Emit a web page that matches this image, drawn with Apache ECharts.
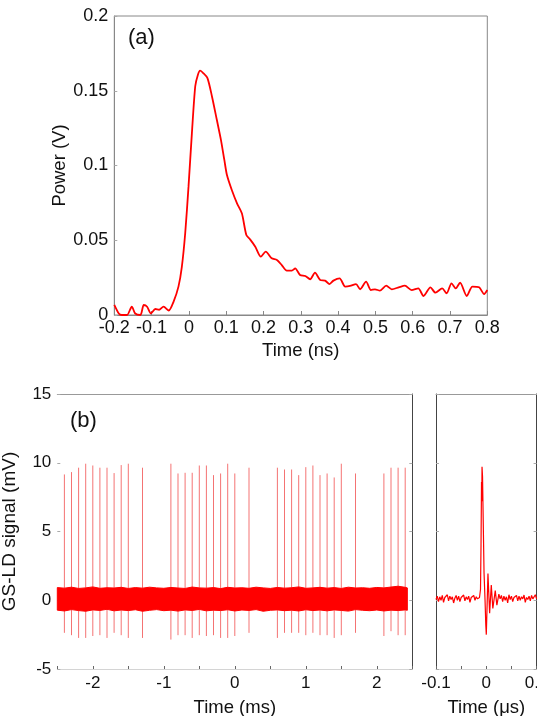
<!DOCTYPE html>
<html><head><meta charset="utf-8">
<script src="https://cdn.jsdelivr.net/npm/echarts@6/dist/echarts.min.js"></script>
<style>html,body{margin:0;padding:0;background:#fff}#c{width:537px;height:716px}</style>
</head><body><div id="c"></div>
<script>
// (a) pulse: time (ns), power (V)
const pulseT = [-0.2,-0.188,-0.18,-0.166,-0.153,-0.144,-0.13,-0.121,-0.112,-0.102,-0.09,-0.08,-0.068,-0.054,-0.041,-0.028,-0.019,-0.0098,-0.001,0.008,0.017,0.024,0.030,0.039,0.05,0.062,0.075,0.086,0.095,0.102,0.115,0.129,0.142,0.154,0.164,0.178,0.193,0.206,0.222,0.236,0.249,0.2625,0.276,0.285,0.298,0.312,0.325,0.338,0.352,0.365,0.377,0.3875,0.404,0.419,0.432,0.448,0.459,0.475,0.488,0.499,0.512,0.529,0.544,0.5625,0.579,0.597,0.615,0.629,0.6475,0.661,0.679,0.691,0.704,0.7155,0.727,0.745,0.76,0.778,0.7915,0.8];
const pulseV = [0.0067,0.001,0,0,0.0056,0.001,0,0.0067,0.0055,0.001,0.004,0.0035,0.0056,0.003,0.009,0.019,0.032,0.055,0.086,0.1215,0.153,0.1605,0.1634,0.1617,0.1583,0.146,0.1304,0.117,0.1037,0.0936,0.0836,0.0747,0.068,0.0535,0.0506,0.0457,0.039,0.0424,0.0379,0.0368,0.0334,0.0297,0.0297,0.0312,0.0268,0.0261,0.0239,0.0283,0.0234,0.023,0.0207,0.023,0.0245,0.019,0.0194,0.0207,0.0172,0.0223,0.0167,0.0172,0.0163,0.0196,0.0172,0.0185,0.0196,0.0167,0.0178,0.0127,0.0185,0.0149,0.0178,0.0145,0.0212,0.0178,0.0216,0.0127,0.019,0.0185,0.014,0.0167];

// (b) spikes: time (ms), peak (mV), trough (mV)
const spikeT   = [-2.4,-2.3,-2.2,-2.1,-2.0,-1.9,-1.8,-1.7,-1.6,-1.5,-1.3,-0.9,-0.8,-0.7,-0.6,-0.5,-0.4,-0.3,-0.2,-0.1,0.0,0.2,0.6,0.7,0.8,0.9,1.0,1.1,1.2,1.3,1.4,1.5,1.7,2.1,2.2,2.3,2.4];
const spikeTop = [9.15,9.32,9.64,9.93,9.8,9.64,9.64,9.25,9.83,9.93,9.64,9.93,9.22,9.27,9.27,9.8,9.8,9.1,9.22,9.93,9.22,9.64,9.64,9.51,9.51,9.1,9.68,9.8,9.1,9.22,8.93,9.93,9.22,9.22,9.64,9.64,9.64];
const spikeBot = [-2.37,-2.54,-2.74,-2.74,-2.6,-2.54,-2.74,-2.37,-2.54,-2.74,-2.74,-2.86,-2.54,-2.54,-2.74,-2.54,-2.6,-2.54,-2.74,-2.74,-2.6,-2.37,-2.74,-2.37,-2.37,-2.37,-2.54,-2.37,-2.54,-2.54,-2.74,-2.54,-2.37,-2.6,-2.25,-2.54,-2.54];

// (b) noise band envelope: time (ms), upper / lower (mV)
const bandT  = [-2.5,-2.4,-2.3,-2.2,-2.1,-2.0,-1.9,-1.8,-1.7,-1.6,-1.5,-1.4,-1.3,-1.2,-1.1,-1.0,-0.9,-0.8,-0.7,-0.6,-0.5,-0.4,-0.3,-0.2,-0.1,0.0,0.1,0.2,0.3,0.4,0.5,0.6,0.7,0.8,0.9,1.0,1.1,1.2,1.3,1.4,1.5,1.6,1.7,1.8,1.9,2.0,2.1,2.2,2.3,2.4,2.43];
const bandHi = [0.92,0.88,0.95,0.86,0.9,0.97,0.87,0.91,0.89,0.94,0.86,0.92,0.88,0.95,0.9,0.87,0.93,0.89,0.86,0.96,0.9,0.88,0.92,0.85,0.94,0.89,0.91,0.87,0.95,0.9,0.86,0.93,0.88,0.91,0.97,0.87,0.9,0.94,0.88,0.92,0.86,0.95,0.89,0.91,0.87,0.93,0.9,0.96,1.02,0.94,0.9];
const bandLo = [-0.72,-0.78,-0.68,-0.75,-0.8,-0.7,-0.74,-0.66,-0.77,-0.71,-0.75,-0.69,-0.8,-0.73,-0.68,-0.76,-0.72,-0.79,-0.7,-0.74,-0.67,-0.77,-0.72,-0.75,-0.69,-0.78,-0.71,-0.74,-0.68,-0.8,-0.73,-0.7,-0.76,-0.72,-0.78,-0.69,-0.75,-0.71,-0.77,-0.7,-0.74,-0.79,-0.68,-0.73,-0.76,-0.71,-0.78,-0.72,-0.75,-0.7,-0.73];

// (b) single pulse: time (us), signal (mV)
const zoomT = [-0.1,-0.0975,-0.095,-0.0925,-0.09,-0.0875,-0.085,-0.0825,-0.08,-0.0775,-0.075,-0.0725,-0.07,-0.0675,-0.065,-0.0625,-0.06,-0.0575,-0.055,-0.0525,-0.05,-0.0475,-0.045,-0.0425,-0.04,-0.0375,-0.035,-0.0325,-0.03,-0.0275,-0.025,-0.0225,-0.02,-0.0175,-0.015,
 -0.0135,-0.0115,-0.0105,-0.0095,-0.009,-0.0085,-0.0075,-0.006,-0.0045,-0.0025,-0.001,0.0,0.0015,0.0033,0.0066,0.0099,0.013,0.0178,0.021,0.025,
 0.0275,0.03,0.0325,0.035,0.0375,0.04,0.0425,0.045,0.0475,0.05,0.0525,0.055,0.0575,0.06,0.0625,0.065,0.0675,0.07,0.0725,0.075,0.0775,0.08,0.0825,0.085,0.0875,0.09,0.0925,0.095,0.0975,0.1];
const zoomV = [0.05,0.3,-0.1,0.25,0.0,0.35,-0.15,0.2,0.1,0.4,-0.05,0.3,0.05,0.25,-0.2,0.15,0.35,0.0,0.3,-0.1,0.2,0.1,0.38,-0.05,0.25,0.05,0.3,-0.15,0.2,0.1,0.35,0.0,0.25,0.1,0.15,
 0.2,0.8,4.0,8.6,7.2,9.7,9.0,5.5,2.0,0.0,-1.8,-2.5,-0.5,1.95,-0.95,1.1,-0.6,0.7,-0.35,0.45,
 0.1,0.35,-0.1,0.3,0.0,0.25,-0.2,0.4,0.05,0.3,-0.1,0.2,0.15,0.35,-0.05,0.3,0.0,0.25,0.1,0.38,-0.15,0.2,0.05,0.3,-0.05,0.35,0.1,0.2,0.4,0.1];

const FONT = '"Liberation Sans", Arial, sans-serif';
const TXT = '#111';
const pair = (a, b) => a.map((x, i) => [x, b[i]]);
const chart = echarts.init(document.getElementById('c'), null, {renderer: 'canvas'});

const noSplit = {show: false};
function aux(gridIndex, position, min, max, color) {
  return {gridIndex, position, type: 'value', min, max,
    axisLine: {show: true, onZero: false, lineStyle: {color, width: 1}},
    axisTick: {show: false}, axisLabel: {show: false}, splitLine: noSplit};
}

const option = {
  animation: false,
  backgroundColor: '#fff',
  textStyle: {fontFamily: FONT},
  grid: [
    {left: 114.3, top: 16, width: 373, height: 299, show: true, borderColor: '#888', borderWidth: 1, outerBoundsMode: 'none', containLabel: false},
    {left: 57.3, top: 394, width: 355, height: 275, outerBoundsMode: 'none', containLabel: false},
    {left: 436, top: 394, width: 100.6, height: 275, outerBoundsMode: 'none', containLabel: false}
  ],
  xAxis: [
    {gridIndex: 0, type: 'value', min: -0.2, max: 0.8, interval: 0.1,
      axisLine: {onZero: false, lineStyle: {color: '#888'}},
      axisTick: {inside: true, length: 4, lineStyle: {color: '#888'}},
      splitLine: noSplit,
      axisLabel: {fontSize: 18, color: TXT, margin: 4, fontFamily: FONT,
        formatter: v => String(Number(v.toFixed(2)))},
      name: 'Time (ns)', nameLocation: 'middle', nameGap: 26, nameMoveOverlap: false,
      nameTextStyle: {fontSize: 18.5, color: TXT, fontFamily: FONT}},
    {gridIndex: 1, type: 'value', min: -2.5, max: 2.5, interval: 0.5,
      axisLine: {onZero: false, lineStyle: {color: '#d4d4d4'}},
      axisTick: {inside: true, length: 3, lineStyle: {color: '#666'}},
      splitLine: noSplit,
      axisLabel: {fontSize: 17, color: TXT, margin: 6, fontFamily: FONT,
        formatter: v => Math.abs(v - Math.round(v)) < 1e-6 ? String(Math.round(v) + 0) : ''},
      name: 'Time (ms)', nameLocation: 'middle', nameGap: 29, nameMoveOverlap: false,
      nameTextStyle: {fontSize: 18.5, color: TXT, fontFamily: FONT}},
    aux(1, 'top', -2.5, 2.5, '#999'),
    {gridIndex: 2, type: 'value', min: -0.1, max: 0.1, interval: 0.05,
      axisLine: {onZero: false, lineStyle: {color: '#d4d4d4'}},
      axisTick: {inside: true, length: 3, lineStyle: {color: '#666'}},
      splitLine: noSplit,
      axisLabel: {fontSize: 17, color: TXT, margin: 6, fontFamily: FONT,
        formatter: v => Math.abs(v * 10 - Math.round(v * 10)) < 1e-6 ? String(Math.round(v * 10) / 10 + 0) : ''},
      name: 'Time (\u03bcs)', nameLocation: 'middle', nameGap: 29, nameMoveOverlap: false,
      nameTextStyle: {fontSize: 18.5, color: TXT, fontFamily: FONT}},
    aux(2, 'top', -0.1, 0.1, '#999')
  ],
  yAxis: [
    {gridIndex: 0, type: 'value', min: 0, max: 0.2, interval: 0.05,
      axisLine: {onZero: false, lineStyle: {color: '#888'}},
      axisTick: {inside: true, length: 3, lineStyle: {color: '#aaa'}},
      splitLine: noSplit,
      axisLabel: {fontSize: 18, color: TXT, margin: 6, fontFamily: FONT},
      name: 'Power (V)', nameLocation: 'middle', nameGap: 45, nameMoveOverlap: false,
      nameTextStyle: {fontSize: 18.5, color: TXT, fontFamily: FONT}},
    {gridIndex: 1, type: 'value', min: -5, max: 15, interval: 5,
      axisLine: {show: false, onZero: false},
      axisTick: {show: true, inside: true, length: 3, lineStyle: {color: '#aaa'}},
      splitLine: noSplit,
      axisLabel: {fontSize: 17, color: TXT, margin: 6, fontFamily: FONT},
      name: 'GS-LD signal (mV)', nameLocation: 'middle', nameGap: 38, nameMoveOverlap: false,
      nameTextStyle: {fontSize: 19, color: TXT, fontFamily: FONT}},
    {gridIndex: 1, type: 'value', position: 'right', min: -5, max: 15, interval: 5,
      axisLine: {show: true, onZero: false, lineStyle: {color: '#444'}},
      axisTick: {show: true, inside: true, length: 3, lineStyle: {color: '#aaa'}},
      axisLabel: {show: false}, splitLine: noSplit},
    {gridIndex: 2, type: 'value', min: -5, max: 15, interval: 5,
      axisLine: {show: true, onZero: false, lineStyle: {color: '#444'}},
      axisTick: {show: true, inside: true, length: 3, lineStyle: {color: '#aaa'}},
      axisLabel: {show: false}, splitLine: noSplit},
    {gridIndex: 2, type: 'value', position: 'right', min: -5, max: 15, interval: 5,
      axisLine: {show: true, onZero: false, lineStyle: {color: '#444'}},
      axisTick: {show: true, inside: true, length: 3, lineStyle: {color: '#aaa'}},
      axisLabel: {show: false}, splitLine: noSplit}
  ],
  graphic: [
    {type: 'text', left: 128, top: 27, style: {text: '(a)', fontSize: 22, fontFamily: FONT, fill: TXT}},
    {type: 'text', left: 70, top: 410, style: {text: '(b)', fontSize: 22, fontFamily: FONT, fill: TXT}}
  ],
  series: [
    {type: 'line', xAxisIndex: 0, yAxisIndex: 0, data: pair(pulseT, pulseV),
      showSymbol: false, smooth: 0.25, lineStyle: {color: '#ff0000', width: 1.8}},
    {type: 'custom', xAxisIndex: 1, yAxisIndex: 1,
      data: spikeT.map((t, i) => [t, spikeBot[i], spikeTop[i]]),
      encode: {x: 0, y: [1, 2]},
      renderItem: function (params, api) {
        const p1 = api.coord([api.value(0), api.value(1)]);
        const p2 = api.coord([api.value(0), api.value(2)]);
        return {type: 'line', shape: {x1: p1[0], y1: p1[1], x2: p2[0], y2: p2[1]},
          style: {stroke: 'rgba(238,40,40,0.65)', lineWidth: 1}};
      }, z: 2},
    {type: 'custom', xAxisIndex: 1, yAxisIndex: 1,
      data: bandT.map((t, i) => [t, bandLo[i], bandHi[i]]),
      encode: {x: 0, y: [1, 2]},
      renderItem: function (params, api) {
        if (params.dataIndex !== 0) return null;
        const pts = [];
        for (let i = 0; i < bandT.length; i++) pts.push(api.coord([bandT[i], bandHi[i]]));
        for (let i = bandT.length - 1; i >= 0; i--) pts.push(api.coord([bandT[i], bandLo[i]]));
        return {type: 'polygon', shape: {points: pts},
          style: {fill: '#ff0000', stroke: '#ff0000', lineWidth: 1}};
      }, z: 3},
    {type: 'line', xAxisIndex: 3, yAxisIndex: 3, data: pair(zoomT, zoomV),
      showSymbol: false, lineStyle: {color: '#ff0000', width: 1.2}}
  ]
};
chart.setOption(option);
</script>
</body></html>
